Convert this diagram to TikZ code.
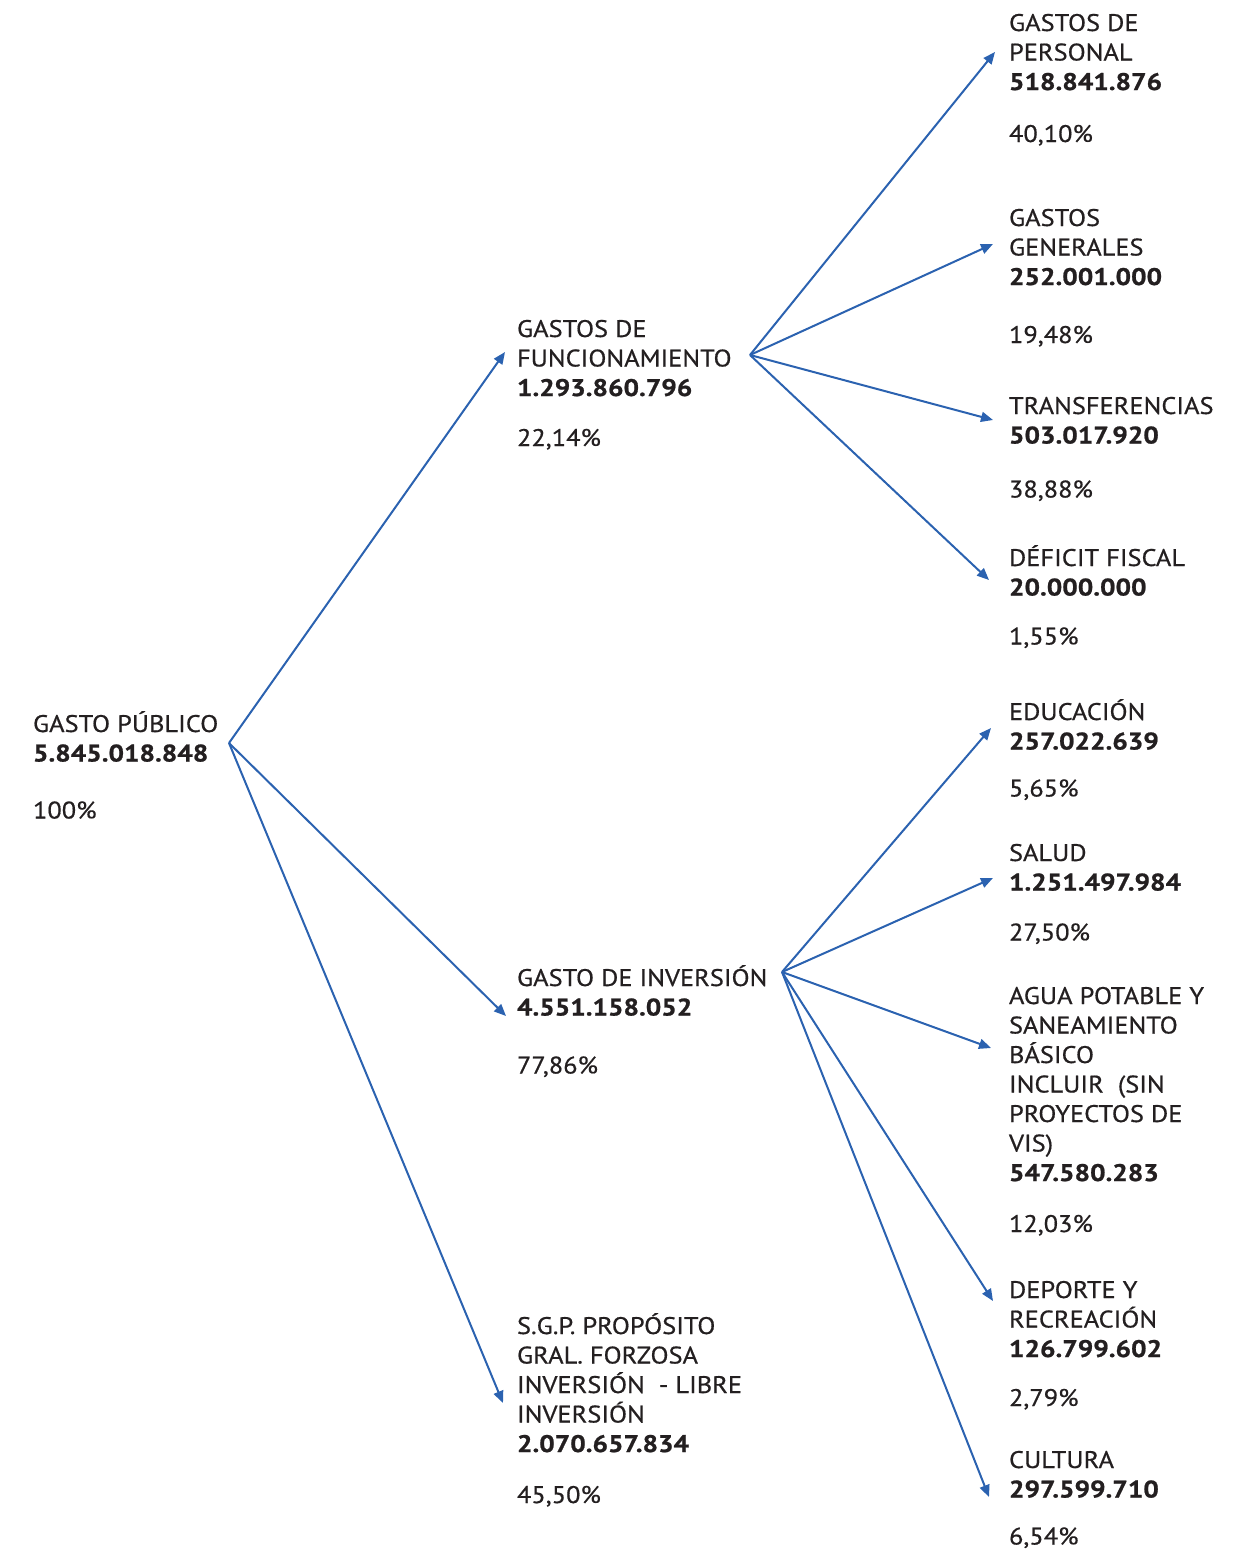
\documentclass[tikz,border=0pt]{standalone}
\usepackage{fontspec}
\setmainfont{PT Sans}[FakeStretch=1.10, FakeBold=0.6, BoldFeatures={FakeStretch=1.14, FakeBold=0.9}]
\usetikzlibrary{arrows.meta}
\definecolor{lineblue}{RGB}{43,98,176}
\definecolor{txt}{RGB}{35,31,32}
\newcommand\blk[4]{\vtop{\baselineskip=29.5pt\lineskiplimit=-100pt\lineskip=0pt
  \halign{##\hfil\cr #2\cr\bfseries #3\cr\noalign{\vskip\dimexpr #1pt-29.5pt\relax}#4\cr}}}
\tikzset{
  lbl/.style={anchor=base west, inner sep=0pt, outer sep=0pt, text=txt, font=\fontsize{24}{29.5}\selectfont},
  conn/.style={draw=lineblue, line width=2pt, -{Triangle[length=12pt,width=10pt]}}
}
\begin{document}
\begin{tikzpicture}[x=1pt,y=-1pt]
\useasboundingbox (0,0) rectangle (1247,1550);
% text blocks
\node[lbl] (gp) at (33,732) {\blk{57}{GASTO PÚBLICO}{5.845.018.848}{100\%}};
\node[lbl] (fun) at (517,337) {\blk{50}{GASTOS DE\cr FUNCIONAMIENTO}{1.293.860.796}{22,14\%}};
\node[lbl] (inv) at (517,986) {\blk{58}{GASTO DE INVERSIÓN}{4.551.158.052}{77,86\%}};
\node[lbl] (sgp) at (517,1334) {\blk{51}{S.G.P. PROPÓSITO\cr GRAL. FORZOSA\cr INVERSIÓN\ \ - LIBRE\cr INVERSIÓN}{2.070.657.834}{45,50\%}};
\node[lbl] (per) at (1009,31) {\blk{52}{GASTOS DE\cr PERSONAL}{518.841.876}{40,10\%}};
\node[lbl] (gen) at (1009,226) {\blk{58}{GASTOS\cr GENERALES}{252.001.000}{19,48\%}};
\node[lbl] (tra) at (1009,414) {\blk{54}{TRANSFERENCIAS}{503.017.920}{38,88\%}};
\node[lbl] (def) at (1009,566) {\blk{49}{DÉFICIT FISCAL}{20.000.000}{1,55\%}};
\node[lbl] (edu) at (1009,720) {\blk{47}{EDUCACIÓN}{257.022.639}{5,65\%}};
\node[lbl] (sal) at (1009,861) {\blk{50}{SALUD}{1.251.497.984}{27,50\%}};
\node[lbl] (agu) at (1009,1004) {\blk{51}{AGUA POTABLE Y\cr SANEAMIENTO\cr BÁSICO\cr INCLUIR\ \ (SIN\cr PROYECTOS DE\cr VIS)}{547.580.283}{12,03\%}};
\node[lbl] (dep) at (1009,1298) {\blk{49}{DEPORTE Y\cr RECREACIÓN}{126.799.602}{2,79\%}};
\node[lbl] (cul) at (1009,1468) {\blk{47}{CULTURA}{297.599.710}{6,54\%}};
% connector ends
\coordinate (gp-out) at (229,743);
\coordinate (fun-in) at (505,352);
\coordinate (inv-in) at (506,1016);
\coordinate (sgp-in) at (503,1403);
\coordinate (fun-out) at (750,355);
\coordinate (per-in) at (995,52);
\coordinate (gen-in) at (993,244);
\coordinate (tra-in) at (993,420);
\coordinate (def-in) at (989,580);
\coordinate (inv-out) at (782,972);
\coordinate (edu-in) at (991,728);
\coordinate (sal-in) at (993,878);
\coordinate (agu-in) at (991,1048);
\coordinate (dep-in) at (993,1301);
\coordinate (cul-in) at (989,1497);
% connectors
\draw[conn] (gp-out) -- (fun-in);
\draw[conn] (gp-out) -- (inv-in);
\draw[conn] (gp-out) -- (sgp-in);
\draw[conn] (fun-out) -- (per-in);
\draw[conn] (fun-out) -- (gen-in);
\draw[conn] (fun-out) -- (tra-in);
\draw[conn] (fun-out) -- (def-in);
\draw[conn] (inv-out) -- (edu-in);
\draw[conn] (inv-out) -- (sal-in);
\draw[conn] (inv-out) -- (agu-in);
\draw[conn] (inv-out) -- (dep-in);
\draw[conn] (inv-out) -- (cul-in);
\end{tikzpicture}
\end{document}
